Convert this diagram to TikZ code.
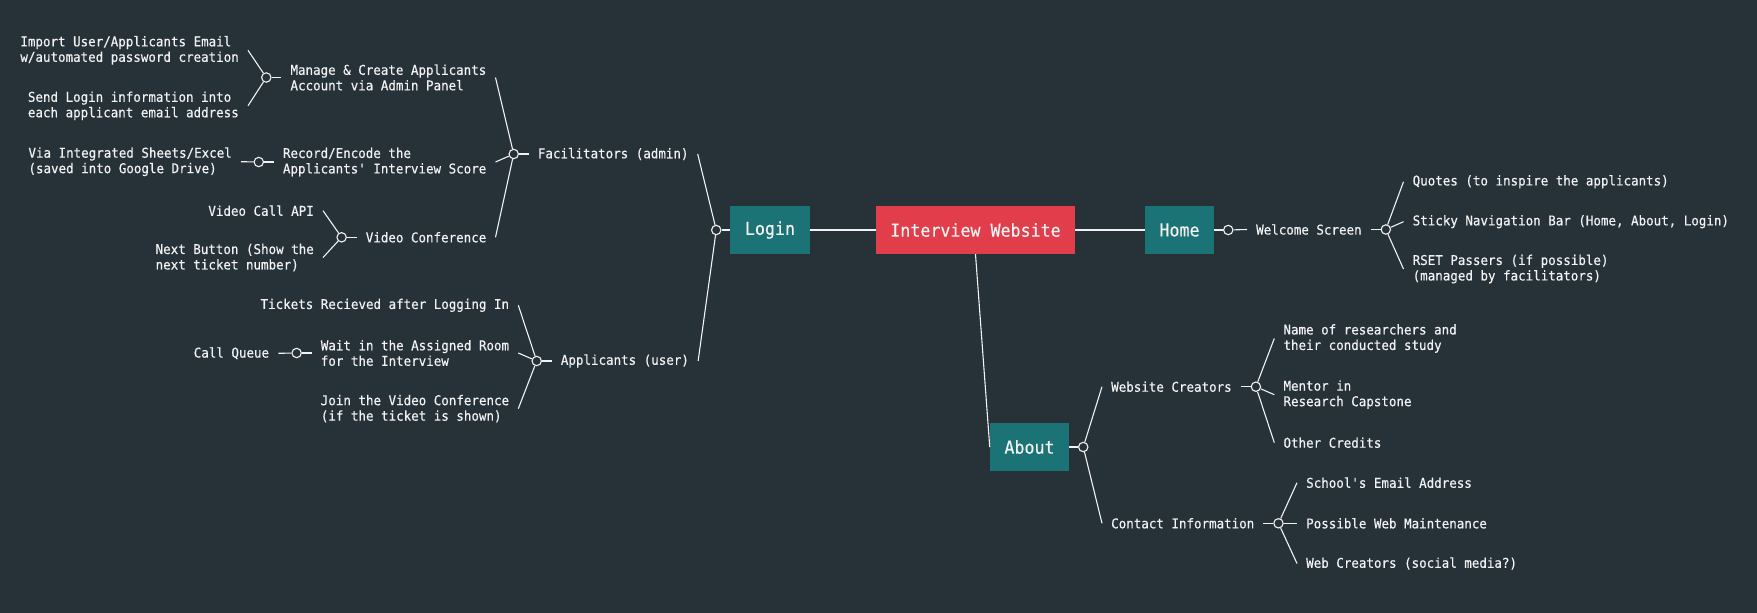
\documentclass[tikz,border=0pt]{standalone}
\usepackage{fontspec}
\setmonofont[FakeStretch=0.93,FakeBold=0.4]{DejaVu Sans Mono}
\usepackage{tikz}
\usetikzlibrary{positioning,calc}
\usepackage{xcolor}
\definecolor{mmbg}{HTML}{263238}
\definecolor{mmteal}{HTML}{1B7375}
\definecolor{mmred}{HTML}{E23D4B}
\definecolor{mmink}{HTML}{F2F2F2}
\tikzset{
  mmbox/.style={fill=mmteal, text=mmink, inner xsep=14.5pt, minimum height=48pt, font=\ttfamily\fontsize{17.9}{20}\selectfont},
  mmroot/.style={mmbox, fill=mmred},
  mmtext/.style={text=mmink, inner xsep=9pt, inner ysep=2pt, align=left, font=\ttfamily\fontsize{13.45}{15.5}\selectfont},
  mmdot/.style={circle, draw=mmink, fill=mmbg, line width=1.1pt, minimum size=9.4pt, inner sep=0pt},
  mmline/.style={draw=mmink, line width=1.1pt},
}
\begin{document}
\begin{tikzpicture}[x=1pt,y=-1pt]
  \fill[mmbg] (0,0) rectangle (1757,613);
  \useasboundingbox (0,0) rectangle (1757,613);

  \node[mmroot] (iw) at (975.5,230) {Interview Website};
  \node[mmbox] (login) at (770,230) {Login};
  \node[mmbox] (home) at (1179.5,230) {Home};
  \node[mmbox] (about) at (1029.5,447) {About};

  \node[mmtext, anchor=west] (fac) at (528.7,154) {Facilitators (admin)};
  \node[mmtext, anchor=west] (app) at (551.7,361) {Applicants (user)};

  \node[mmtext, anchor=east] (manage) at (495.5,77.5) {Manage \& Create Applicants\\Account via Admin Panel};
  \node[mmtext, anchor=east] (record) at (495.5,162) {Record/Encode the\\Applicants' Interview Score};
  \node[mmtext, anchor=east] (vconf) at (495.5,237.3) {Video Conference};
  \node[mmtext, anchor=east] (import) at (248,50.3) {Import User/Applicants Email\\w/automated password creation};
  \node[mmtext, anchor=east] (send) at (248,105.8) {Send Login information into\\each applicant email address};
  \node[mmtext, anchor=east] (via) at (241,161.7) {Via Integrated Sheets/Excel\\(saved into Google Drive)};
  \node[mmtext, anchor=east] (vapi) at (323,210.7) {Video Call API};
  \node[mmtext, anchor=east] (nextbtn) at (323,257.5) {Next Button (Show the\\next ticket number)};

  \node[mmtext, anchor=east] (tickets) at (518.3,305.3) {Tickets Recieved after Logging In};
  \node[mmtext, anchor=east] (wait) at (518.3,353) {Wait in the Assigned Room\\for the Interview};
  \node[mmtext, anchor=east] (join) at (518.3,408.7) {Join the Video Conference\\(if the ticket is shown)};
  \node[mmtext, anchor=east] (queue) at (278.3,353.3) {Call Queue};

  \node[mmtext, anchor=west] (welcome) at (1247,229.5) {Welcome Screen};
  \node[mmtext, anchor=west] (quotes) at (1403.5,181.7) {Quotes (to inspire the applicants)};
  \node[mmtext, anchor=west] (sticky) at (1403.5,221.7) {Sticky Navigation Bar (Home, About, Login)};
  \node[mmtext, anchor=west] (rset) at (1403.5,269) {RSET Passers (if possible)\\(managed by facilitators)};

  \node[mmtext, anchor=west] (webcr) at (1102,386.7) {Website Creators};
  \node[mmtext, anchor=west] (contact) at (1102,523.3) {Contact Information};
  \node[mmtext, anchor=west] (name) at (1274.3,338.5) {Name of researchers and\\their conducted study};
  \node[mmtext, anchor=west] (mentor) at (1274.3,394.7) {Mentor in\\Research Capstone};
  \node[mmtext, anchor=west] (other) at (1274.3,442.7) {Other Credits};
  \node[mmtext, anchor=west] (school) at (1297,482.7) {School's Email Address};
  \node[mmtext, anchor=west] (maint) at (1297,523.3) {Possible Web Maintenance};
  \node[mmtext, anchor=west] (webc) at (1297,563.5) {Web Creators (social media?)};

  \node[mmdot] (logindot) at ($(login.west)+(-14,0)$) {};
  \node[mmdot] (homedot) at ($(home.east)+(14,0)$) {};
  \node[mmdot] (aboutdot) at ($(about.east)+(14,0)$) {};
  \node[mmdot] (facdot) at ($(fac.west)+(-15,0)$) {};
  \node[mmdot] (appdot) at ($(app.west)+(-15,0)$) {};
  \node[mmdot] (managedot) at ($(manage.west)+(-15,0)$) {};
  \node[mmdot] (recorddot) at ($(record.west)+(-15,0)$) {};
  \node[mmdot] (vconfdot) at ($(vconf.west)+(-15,0)$) {};
  \node[mmdot] (waitdot) at ($(wait.west)+(-15,0)$) {};
  \node[mmdot] (welcomedot) at ($(welcome.east)+(15,0)$) {};
  \node[mmdot] (webcrdot) at ($(webcr.east)+(15,0)$) {};
  \node[mmdot] (contactdot) at ($(contact.east)+(15,0)$) {};

  \draw[mmline] (login.east) -- (iw.west);
  \draw[mmline] (iw.east) -- (home.west);
  \draw[mmline] (iw.south) -- (about.west);

  \draw[mmline] (logindot) -- (login.west);
  \draw[mmline] (logindot) -- (fac.east);
  \draw[mmline] (logindot) -- (app.east);

  \draw[mmline] (facdot) -- (fac.west);
  \draw[mmline] (facdot) -- (manage.east);
  \draw[mmline] (facdot) -- (record.east);
  \draw[mmline] (facdot) -- (vconf.east);
  \draw[mmline] (managedot) -- (manage.west);
  \draw[mmline] (managedot) -- (import.east);
  \draw[mmline] (managedot) -- (send.east);
  \draw[mmline] (recorddot) -- (record.west);
  \draw[mmline] (recorddot) -- (via.east);
  \draw[mmline] (vconfdot) -- (vconf.west);
  \draw[mmline] (vconfdot) -- (vapi.east);
  \draw[mmline] (vconfdot) -- (nextbtn.east);

  \draw[mmline] (appdot) -- (app.west);
  \draw[mmline] (appdot) -- (tickets.east);
  \draw[mmline] (appdot) -- (wait.east);
  \draw[mmline] (appdot) -- (join.east);
  \draw[mmline] (waitdot) -- (wait.west);
  \draw[mmline] (waitdot) -- (queue.east);

  \draw[mmline] (homedot) -- (home.east);
  \draw[mmline] (homedot) -- (welcome.west);
  \draw[mmline] (welcomedot) -- (welcome.east);
  \draw[mmline] (welcomedot) -- (quotes.west);
  \draw[mmline] (welcomedot) -- (sticky.west);
  \draw[mmline] (welcomedot) -- (rset.west);

  \draw[mmline] (aboutdot) -- (about.east);
  \draw[mmline] (aboutdot) -- (webcr.west);
  \draw[mmline] (aboutdot) -- (contact.west);
  \draw[mmline] (webcrdot) -- (webcr.east);
  \draw[mmline] (webcrdot) -- (name.west);
  \draw[mmline] (webcrdot) -- (mentor.west);
  \draw[mmline] (webcrdot) -- (other.west);
  \draw[mmline] (contactdot) -- (contact.east);
  \draw[mmline] (contactdot) -- (school.west);
  \draw[mmline] (contactdot) -- (maint.west);
  \draw[mmline] (contactdot) -- (webc.west);
\end{tikzpicture}
\end{document}
